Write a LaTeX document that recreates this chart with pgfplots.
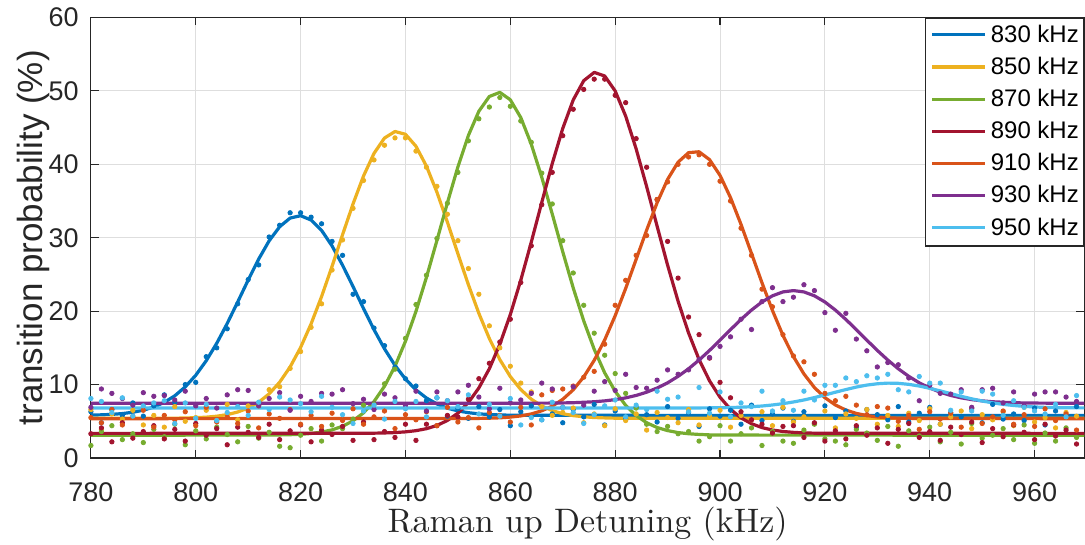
\documentclass[border=0pt]{standalone}
\usepackage{fontspec}
\usepackage{pgfplots}
\usepackage{pgfplotstable}
\pgfplotsset{compat=1.18}
\newfontfamily\arial{Liberation Sans}
\newfontfamily\lmten{lmroman10-regular.otf}
\definecolor{c1}{rgb}{0,0.447,0.741}
\definecolor{c2}{rgb}{0.929,0.694,0.125}
\definecolor{c3}{rgb}{0.466,0.674,0.188}
\definecolor{c4}{rgb}{0.635,0.078,0.184}
\definecolor{c5}{rgb}{0.850,0.325,0.098}
\definecolor{c6}{rgb}{0.494,0.184,0.556}
\definecolor{c7}{rgb}{0.301,0.745,0.933}
\definecolor{axc}{rgb}{0.15,0.15,0.15}
\pgfplotstableread{
x a b c d e f g
780 6.3 6.6 1.7 3.3 5.5 6.9 8.1
782 4.8 3.9 3.6 4.1 4.8 9.4 7.7
784 6.6 6.0 4.4 2.2 6.6 8.8 6.2
786 5.8 5.3 2.5 4.8 4.5 8.1 8.2
788 7.5 6.5 3.3 2.7 5.7 7.2 5.7
790 5.7 4.5 2.1 3.6 6.5 8.9 7.1
792 7.1 5.8 3.9 4.4 4.2 8.4 7.5
794 8.6 4.2 2.9 2.6 5.8 8.5 7.8
796 7.6 7.0 4.6 3.9 5.2 7.9 4.7
798 10.0 5.0 1.8 2.3 6.3 9.1 7.5
800 10.3 5.5 3.7 4.7 4.4 7.1 5.4
802 13.8 6.5 2.6 3.1 6.9 8.1 7.3
804 15.0 5.1 4.2 4.0 4.9 6.8 5.1
806 17.6 7.3 3.2 1.8 5.6 8.6 6.2
808 21.0 5.2 2.2 4.2 4.7 9.3 7.0
810 24.3 7.1 4.3 3.5 6.4 9.2 5.8
812 26.3 7.1 2.7 2.8 4.1 7.1 7.6
814 30.1 9.3 3.5 4.6 6.0 8.1 6.6
816 31.7 9.7 1.6 2.5 5.4 8.9 8.3
818 33.4 12.2 1.4 3.7 6.6 6.5 7.9
820 33.4 14.5 3.1 4.5 4.6 8.4 7.4
822 32.8 17.8 4.0 2.2 5.8 7.7 6.3
824 31.9 21.0 2.3 3.8 4.3 8.8 8.4
826 29.5 25.6 4.5 3.2 6.1 8.7 6.9
828 27.6 29.7 4.0 4.3 5.1 9.3 5.9
830 22.3 34.0 5.3 2.4 6.7 7.4 4.7
832 21.3 37.8 7.2 4.9 4.6 8.0 6.4
834 17.7 40.6 7.3 2.5 5.6 6.6 7.2
836 15.3 42.6 10.1 3.6 6.4 8.7 5.3
838 12.4 43.6 12.1 2.8 4.0 8.2 7.7
840 10.8 43.6 16.3 4.6 5.9 7.2 6.7
842 9.8 41.8 20.9 2.4 5.2 9.1 7.7
844 7.8 39.6 24.9 4.6 6.3 6.4 5.6
846 8.2 37.0 29.9 4.4 4.4 9.0 8.2
848 5.7 33.2 34.7 5.8 6.9 7.8 7.8
850 6.7 29.6 38.9 5.6 4.9 9.0 7.0
852 5.4 25.8 43.2 8.0 5.5 9.9 8.6
854 7.0 22.3 46.2 10.8 4.1 8.3 6.0
856 5.6 18.0 47.8 12.9 6.2 6.7 7.3
858 6.6 15.0 49.1 15.8 5.8 9.5 5.7
860 4.4 12.5 47.9 18.9 4.9 7.5 8.1
862 6.3 10.2 45.9 23.9 6.9 7.9 4.5
864 7.1 9.0 43.0 28.9 4.5 8.8 5.5
866 5.2 7.0 38.8 34.5 8.6 10.2 5.2
868 6.0 5.8 34.6 38.9 9.2 9.4 7.6
870 4.8 6.2 29.6 43.9 9.4 6.9 6.9
872 6.6 6.8 25.2 47.5 9.8 9.7 6.2
874 5.6 4.8 20.8 50.2 11.0 7.2 4.7
876 7.3 6.0 17.0 51.6 11.8 9.1 5.9
878 4.5 4.4 14.0 51.6 15.5 10.4 7.1
880 6.4 6.7 11.5 49.4 20.8 9.2 7.9
882 5.3 5.1 8.8 48.4 24.2 11.4 5.6
884 6.9 6.0 6.8 43.5 27.6 9.6 7.2
886 5.9 3.8 4.6 39.6 30.3 9.5 6.6
888 4.9 6.2 3.6 35.2 35.2 10.6 9.1
890 7.0 5.5 4.3 29.5 37.6 12.0 8.0
892 5.4 4.8 3.3 24.5 40.0 11.4 8.3
894 6.2 6.6 3.6 19.2 41.0 12.0 6.3
896 4.3 4.5 2.3 16.8 41.3 13.4 9.6
898 6.7 5.7 2.9 13.6 40.0 13.7 6.1
900 5.7 6.5 4.4 10.3 37.7 15.2 9.0
902 6.5 4.2 2.3 8.2 35.0 16.5 5.6
904 4.6 5.8 3.3 6.3 31.3 18.9 7.5
906 7.2 5.2 4.1 5.2 27.6 17.5 7.0
908 5.1 6.3 1.7 4.6 23.0 21.3 9.1
910 6.0 4.4 3.6 3.4 20.6 23.2 6.4
912 6.8 6.9 2.3 4.3 16.8 21.3 7.8
914 5.0 4.9 2.0 4.4 13.9 21.9 6.5
916 6.3 5.6 3.8 2.8 13.1 23.6 9.1
918 4.7 4.7 4.6 4.8 11.4 22.8 7.9
920 7.1 6.4 2.6 2.3 8.8 19.8 9.9
922 5.5 4.1 2.3 3.7 7.8 17.4 9.9
924 6.4 6.0 1.8 2.6 8.4 19.7 10.9
926 4.2 5.4 3.9 4.4 7.2 16.2 10.4
928 6.6 6.6 3.4 3.1 5.9 14.6 11.2
930 5.9 4.6 2.4 4.1 7.0 12.4 10.9
932 5.2 5.8 4.3 2.0 6.8 13.0 11.4
934 7.0 4.3 1.6 3.9 5.0 12.7 9.3
936 4.9 6.1 3.7 4.7 5.8 10.9 9.0
938 6.1 5.1 3.0 2.8 3.9 7.8 11.1
940 6.9 6.7 4.2 3.6 6.3 9.9 10.2
942 4.6 4.6 2.2 2.4 5.3 8.8 10.2
944 6.2 5.6 3.5 4.2 6.1 8.7 6.5
946 5.6 6.4 1.9 3.2 4.2 9.3 9.0
948 6.7 4.0 4.7 4.9 6.8 6.9 6.4
950 4.8 5.9 2.7 2.1 4.7 9.3 9.1
952 7.3 5.2 3.1 4.0 5.6 9.5 8.7
954 5.3 6.3 4.0 2.9 6.4 7.5 5.8
956 6.0 4.4 2.5 4.5 4.6 9.0 7.8
958 5.1 6.9 4.5 3.5 5.9 7.1 6.9
960 6.8 4.9 2.0 2.5 4.3 8.7 6.4
962 4.5 5.5 3.4 4.6 6.7 9.0 6.0
964 6.4 4.1 2.3 3.0 5.1 9.0 7.3
966 5.8 6.2 4.1 3.8 6.0 8.3 5.6
968 7.0 5.7 2.8 1.9 3.8 7.7 8.5
}\pts
\begin{document}
\begin{tikzpicture}
\begin{axis}[
  scale only axis, width=497.3pt, height=220.5pt,
  xmin=780, xmax=969.5, ymin=0, ymax=60,
  xtick={780,800,...,960}, ytick={0,10,...,60},
  axis line style={axc, line width=0.6pt},
  tick style={axc, line width=0.6pt},
  major tick length=4pt,
  tick align=inside,
  grid=major, major grid style={color=black!13, line width=0.5pt},
  /pgf/number format/assume math mode=true,
  ticklabel style={font=\arial\fontsize{13.5}{16}\selectfont, text=axc},
  xticklabel style={anchor=base, yshift=-22pt},
  yticklabel style={anchor=east, inner sep=0pt, xshift=-6pt},
  xlabel={Raman up Detuning (kHz)},
  xlabel style={at={(axis description cs:0.5,-0.170)}, anchor=base, inner sep=0pt, font=\lmten\fontsize{17}{20}\selectfont, text=axc},
  ylabel={transition probability (\%)},
  ylabel style={at={(axis description cs:-0.058,0.5)}, anchor=center, inner sep=0pt, font=\arial\fontsize{17.5}{20}\selectfont, text=axc},
  legend style={at={(1,1)}, anchor=north east, draw=axc, line width=0.6pt, fill=white,
    font=\arial\fontsize{12}{14}\selectfont, inner xsep=2.5pt, inner ysep=3pt,
    row sep=4.6pt, column sep=2pt,
    nodes={inner sep=0pt, text height=9pt, text depth=2.5pt, anchor=base west}},
  legend cell align=left,
  legend image code/.code={\draw[#1, line width=1.6pt] (0pt,3.6pt) -- (26.5pt,3.6pt);},
]
\addplot[only marks, mark=*, mark size=1.1pt, c1, mark options={draw=none, fill=c1}, forget plot] table[x=x,y=a]{\pts};
\addplot[only marks, mark=*, mark size=1.1pt, c2, mark options={draw=none, fill=c2}, forget plot] table[x=x,y=b]{\pts};
\addplot[only marks, mark=*, mark size=1.1pt, c3, mark options={draw=none, fill=c3}, forget plot] table[x=x,y=c]{\pts};
\addplot[only marks, mark=*, mark size=1.1pt, c4, mark options={draw=none, fill=c4}, forget plot] table[x=x,y=d]{\pts};
\addplot[only marks, mark=*, mark size=1.1pt, c5, mark options={draw=none, fill=c5}, forget plot] table[x=x,y=e]{\pts};
\addplot[only marks, mark=*, mark size=1.1pt, c6, mark options={draw=none, fill=c6}, forget plot] table[x=x,y=f]{\pts};
\addplot[only marks, mark=*, mark size=1.1pt, c7, mark options={draw=none, fill=c7}, forget plot] table[x=x,y=g]{\pts};

\addplot[c1, line width=1.6pt, no marks, line join=round] coordinates {(780,5.84)(782,5.88)(784,5.94)(786,6.05)(788,6.23)(790,6.51)(792,6.94)(794,7.58)(796,8.47)(798,9.69)(800,11.27)(802,13.25)(804,15.62)(806,18.32)(808,21.25)(810,24.24)(812,27.09)(814,29.58)(816,31.50)(818,32.68)(820,33.00)(822,32.41)(824,31.00)(826,28.88)(828,26.26)(830,23.35)(832,20.36)(834,17.48)(836,14.87)(838,12.62)(840,10.75)(842,9.28)(844,8.17)(846,7.36)(848,6.79)(850,6.41)(852,6.17)(854,6.01)(856,5.92)(858,5.86)(860,5.83)(862,5.81)(970,5.80)};
\addlegendentry{830 kHz}
\addplot[c2, line width=1.6pt, no marks, line join=round] coordinates {(780,5.40)(796,5.42)(798,5.45)(800,5.49)(802,5.56)(804,5.69)(806,5.91)(808,6.26)(810,6.80)(812,7.59)(814,8.74)(816,10.32)(818,12.40)(820,15.05)(822,18.27)(824,21.99)(826,26.11)(828,30.41)(830,34.61)(832,38.41)(834,41.49)(836,43.58)(838,44.47)(840,44.09)(842,42.46)(844,39.75)(846,36.20)(848,32.12)(850,27.82)(852,23.61)(854,19.70)(856,16.27)(858,13.40)(860,11.09)(862,9.32)(864,8.01)(866,7.08)(868,6.45)(870,6.03)(872,5.77)(874,5.61)(876,5.51)(878,5.46)(880,5.42)(970,5.40)};
\addlegendentry{850 kHz}
\addplot[c3, line width=1.6pt, no marks, line join=round] coordinates {(780,3.10)(814,3.12)(816,3.14)(818,3.17)(820,3.23)(822,3.34)(824,3.53)(826,3.83)(828,4.32)(830,5.06)(832,6.15)(834,7.69)(836,9.77)(838,12.49)(840,15.90)(842,19.96)(844,24.60)(846,29.63)(848,34.76)(850,39.65)(852,43.93)(854,47.23)(856,49.24)(858,49.80)(860,48.79)(862,46.36)(864,42.73)(866,38.23)(868,33.23)(870,28.09)(872,23.16)(874,18.68)(876,14.80)(878,11.60)(880,9.08)(882,7.17)(884,5.78)(886,4.80)(888,4.15)(890,3.73)(892,3.46)(894,3.30)(896,3.21)(898,3.15)(900,3.12)(970,3.10)};
\addlegendentry{870 kHz}
\addplot[c4, line width=1.6pt, no marks, line join=round] coordinates {(780,3.35)(834,3.38)(836,3.41)(838,3.46)(840,3.56)(842,3.72)(844,3.99)(846,4.43)(848,5.11)(850,6.11)(852,7.55)(854,9.54)(856,12.16)(858,15.49)(860,19.54)(862,24.23)(864,29.41)(866,34.82)(868,40.11)(870,44.89)(872,48.77)(874,51.39)(876,52.52)(878,52.03)(880,49.99)(882,46.57)(884,42.10)(886,36.97)(888,31.57)(890,26.26)(892,21.35)(894,17.03)(896,13.41)(898,10.51)(900,8.27)(902,6.63)(904,5.46)(906,4.67)(908,4.14)(910,3.81)(912,3.61)(914,3.49)(916,3.42)(918,3.38)(970,3.35)};
\addlegendentry{890 kHz}
\addplot[c5, line width=1.6pt, no marks, line join=round] coordinates {(780,5.35)(854,5.39)(856,5.42)(858,5.47)(860,5.57)(862,5.73)(864,6.00)(866,6.43)(868,7.06)(870,7.99)(872,9.29)(874,11.04)(876,13.30)(878,16.08)(880,19.38)(882,23.09)(884,27.06)(886,31.04)(888,34.77)(890,37.95)(892,40.29)(894,41.59)(896,41.71)(898,40.64)(900,38.49)(902,35.46)(904,31.82)(906,27.86)(908,23.87)(910,20.09)(912,16.70)(914,13.81)(916,11.45)(918,9.60)(920,8.22)(922,7.22)(924,6.53)(926,6.07)(928,5.78)(930,5.59)(932,5.48)(934,5.42)(936,5.38)(970,5.35)};
\addlegendentry{910 kHz}
\addplot[c6, line width=1.6pt, no marks, line join=round] coordinates {(780,7.45)(864,7.46)(866,7.47)(868,7.48)(870,7.50)(872,7.53)(874,7.59)(876,7.66)(878,7.78)(880,7.95)(882,8.19)(884,8.52)(886,8.96)(888,9.53)(890,10.24)(892,11.12)(894,12.15)(896,13.34)(898,14.65)(900,16.05)(902,17.48)(904,18.87)(906,20.15)(908,21.25)(910,22.09)(912,22.62)(914,22.80)(916,22.62)(918,22.09)(920,21.25)(922,20.15)(924,18.87)(926,17.48)(928,16.05)(930,14.65)(932,13.34)(934,12.15)(936,11.12)(938,10.24)(940,9.53)(942,8.96)(944,8.52)(946,8.19)(948,7.95)(950,7.78)(952,7.66)(954,7.59)(956,7.53)(958,7.50)(960,7.48)(962,7.47)(964,7.46)(970,7.45)};
\addlegendentry{930 kHz}
\addplot[c7, line width=1.6pt, no marks, line join=round] coordinates {(780,6.80)(896,6.82)(898,6.83)(900,6.84)(902,6.87)(904,6.92)(906,6.99)(908,7.08)(910,7.22)(912,7.40)(914,7.63)(916,7.90)(918,8.23)(920,8.58)(922,8.96)(924,9.32)(926,9.66)(928,9.93)(930,10.11)(932,10.20)(934,10.17)(936,10.03)(938,9.80)(940,9.49)(942,9.14)(944,8.77)(946,8.40)(948,8.06)(950,7.76)(952,7.51)(954,7.30)(956,7.15)(958,7.03)(960,6.95)(962,6.89)(964,6.86)(966,6.84)(970,6.82)};
\addlegendentry{950 kHz}
\end{axis}
\path (current axis.south west) ++(-45.5pt,-43.25pt);
\path (current axis.north east) ++(0pt,8.75pt);
\end{tikzpicture}
\end{document}
